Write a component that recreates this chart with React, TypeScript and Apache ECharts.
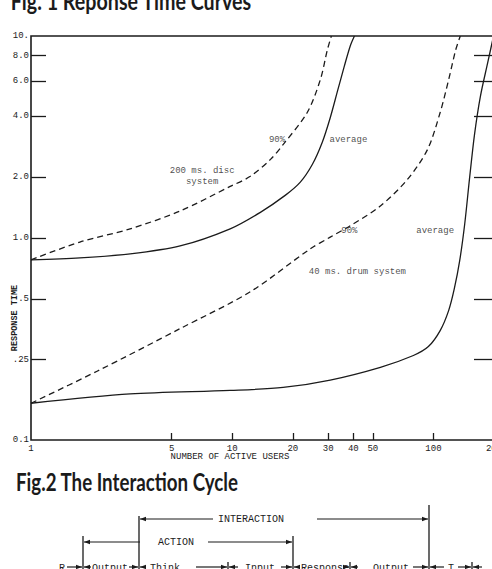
import React, { useEffect, useRef } from "react";
import * as echarts from "echarts";

// ---- Fig. 1 data: number of active users vs response time (s) ----
const discP90Users = [1, 1.75, 3.11, 5.51, 9.77, 12.3, 15.5, 17.9, 23.6, 27.4, 29.7, 31.1];
const discP90Resp = [0.78, 0.955, 1.11, 1.36, 1.8, 2.02, 2.45, 2.9, 4.18, 6.07, 8.53, 10];
const discAvgUsers = [1, 1.75, 3.11, 5.51, 9.77, 13.8, 18.4, 21.8, 25.0, 28.0, 30.7, 33.3, 36.1, 38.6, 40.5];
const discAvgResp = [0.78, 0.797, 0.834, 0.913, 1.11, 1.34, 1.63, 1.89, 2.31, 2.97, 3.94, 5.3, 7.11, 8.93, 10];
const drumP90Users = [1, 2.13, 5.51, 12.3, 24.4, 30.7, 38.6, 54.5, 74.3, 93.4, 108, 119, 129, 136];
const drumP90Resp = [0.152, 0.219, 0.356, 0.542, 0.883, 1.01, 1.15, 1.44, 1.95, 2.74, 4.18, 6.07, 8.53, 10];
const drumAvgUsers = [1, 3.11, 9.77, 17.9, 30.7, 54.5, 79.5, 94.4, 108, 119, 127, 135, 143, 151, 160, 171, 186, 199];
const drumAvgResp = [0.152, 0.169, 0.176, 0.182, 0.198, 0.229, 0.262, 0.29, 0.348, 0.437, 0.561, 0.77, 1.17, 1.95, 3.25, 5.0, 7.36, 10];

// curve annotations (anchored in data space)
const annotationTexts = ["90%", "average", "200 ms. disc\nsystem", "90%", "average", "40 ms. drum system"];
const annotationUsers = [16.7, 37.8, 7.09, 38.2, 102, 41.9];
const annotationResp = [3.07, 3.07, 2.01, 1.08, 1.08, 0.68];

// axis ticks
const yTickValues = [10, 8, 6, 4, 2, 1, 0.5, 0.25, 0.1];
const yTickLabels = ["10.", "8.0", "6.0", "4.0", "2.0", "1.0", ".5", ".25", "0.1"];
const yTickMarks = [8, 6, 4, 2, 1, 0.5, 0.25];
const xTickValues = [1, 5, 10, 20, 30, 40, 50, 100, 200];
const xTickLabels = ["1", "5", "10", "20", "30", "40", "50", "100", "200"];
const xTickMarks = [5, 10, 20, 30, 40, 50, 100];

// Fig. 2 texts
const cycleRowTexts = ["R", "Output", "Think", "Input", "Response", "Output", "T"];

const L = Math.log10;
const mono = "'Liberation Mono', 'DejaVu Sans Mono', monospace";
const ink = "#1b1b1b";

const lookup = (vals: number[], labels: string[]) => (v: number) => {
  const i = vals.findIndex((t) => Math.abs(L(t) - v) < 1e-6);
  return i >= 0 ? labels[i] : "";
};

const curve = (name: string, xs: number[], ys: number[], dashed: boolean) => ({
  type: "line",
  name,
  xAxisIndex: 0,
  yAxisIndex: 0,
  data: xs.map((x, i) => [x, ys[i]]),
  symbol: "none",
  showSymbol: false,
  smooth: 0.3,
  silent: true,
  lineStyle: { color: ink, width: 1.3, type: dashed ? [6, 4] : "solid" },
});

const hseg = (x1: number, x2: number, y: number) => ({
  type: "line",
  silent: true,
  shape: { x1, y1: y, x2, y2: y },
  style: { stroke: ink, lineWidth: 1.2 },
});
const vseg = (x: number, y1: number, y2: number) => ({
  type: "line",
  silent: true,
  shape: { x1: x, y1, x2: x, y2 },
  style: { stroke: ink, lineWidth: 1.3 },
});
const head = (x: number, y: number, dir: number) => ({
  type: "polygon",
  silent: true,
  shape: {
    points:
      dir > 0
        ? [[x, y], [x - 6, y - 2.2], [x - 6, y + 2.2]]
        : [[x, y], [x + 6, y - 2.2], [x + 6, y + 2.2]],
  },
  style: { fill: ink },
});
const arrow = (x1: number, x2: number, y: number, dir: number) => [
  hseg(x1, x2, y),
  head(dir > 0 ? x2 : x1, y, dir),
];
const txt = (text: string, x: number, y: number, font: string, extra: any = {}) => ({
  type: "text",
  silent: true,
  x,
  y,
  ...extra,
  style: {
    text,
    fill: ink,
    font,
    align: "center",
    textAlign: "center",
    verticalAlign: "middle",
    textVerticalAlign: "middle",
  },
});

const rowY = 567;
const rowX = [62, 110, 165, 260, 325, 391, 451];

const graphics: any[] = [
  txt("Fig. 1 Reponse Time Curves", 131, 1, "bold 24px Lato", { scaleX: 0.82 }),
  txt("Fig.2 The Interaction Cycle", 127, 482, "bold 24px Lato", { scaleX: 0.78 }),
  txt("RESPONSE TIME", 15, 318, "bold 8.5px " + mono, { rotation: Math.PI / 2 }),
  txt("NUMBER OF ACTIVE USERS", 230, 457, "9px " + mono),
  // INTERACTION bracket
  vseg(139, 516, 569),
  vseg(429, 505, 569),
  ...arrow(140, 213, 519, -1),
  txt("INTERACTION", 251, 519, "10px " + mono),
  ...arrow(317, 428, 519, 1),
  // ACTION bracket
  vseg(83, 536, 569),
  vseg(293, 536, 569),
  ...arrow(84, 140, 542, -1),
  txt("ACTION", 176, 542, "10px " + mono),
  ...arrow(208, 292, 542, 1),
  // bottom row
  ...cycleRowTexts.map((t, i) => txt(t, rowX[i], rowY + 1, "10px " + mono)),
  ...arrow(67, 82, rowY, 1),
  ...arrow(84, 91, rowY, -1),
  ...arrow(129, 138, rowY, 1),
  ...arrow(140, 146, rowY, -1),
  ...arrow(196, 227, rowY, 1),
  vseg(228, 562, 569),
  ...arrow(229, 238, rowY, -1),
  ...arrow(281, 292, rowY, 1),
  ...arrow(294, 300, rowY, -1),
  ...arrow(343, 349, rowY, 1),
  vseg(350, 562, 569),
  ...arrow(351, 358, rowY, -1),
  ...arrow(413, 428, rowY, 1),
  ...arrow(430, 444, rowY, -1),
  ...arrow(458, 471, rowY, 1),
  vseg(472, 562, 569),
  ...arrow(473, 482, rowY, -1),
];

const option: any = {
  animation: false,
  backgroundColor: "#ffffff",
  grid: {
    left: 31,
    right: -2,
    top: 36,
    bottom: 129,
    containLabel: false,
    outerBoundsMode: "none",
    show: true,
    borderColor: ink,
    borderWidth: 1.6,
    backgroundColor: "transparent",
  },
  xAxis: [
    {
      type: "log",
      logBase: 10,
      min: 1,
      max: 200,
      axisLine: { show: false, onZero: false },
      axisTick: { show: false },
      axisLabel: { show: false },
      splitLine: { show: false },
    },
    {
      type: "value",
      min: 0,
      max: L(200),
      position: "bottom",
      axisLine: { show: false, onZero: false },
      splitLine: { show: false },
      axisTick: {
        show: true,
        inside: true,
        length: 7,
        customValues: xTickMarks.map(L),
        lineStyle: { color: ink, width: 1.3 },
      },
      axisLabel: {
        show: true,
        customValues: xTickValues.map(L),
        formatter: lookup(xTickValues, xTickLabels),
        margin: 4,
        fontFamily: mono,
        fontSize: 9,
        color: ink,
        hideOverlap: false,
      },
    },
  ],
  yAxis: [
    {
      type: "log",
      logBase: 10,
      min: 0.1,
      max: 10,
      axisLine: { show: false, onZero: false },
      axisTick: { show: false },
      axisLabel: { show: false },
      splitLine: { show: false },
    },
    {
      type: "value",
      min: -1,
      max: 1,
      position: "left",
      axisLine: { show: false, onZero: false },
      splitLine: { show: false },
      axisTick: {
        show: true,
        inside: true,
        length: 15,
        customValues: yTickMarks.map(L),
        lineStyle: { color: ink, width: 1.3 },
      },
      axisLabel: {
        show: true,
        customValues: yTickValues.map(L),
        formatter: lookup(yTickValues, yTickLabels),
        margin: 2,
        fontFamily: mono,
        fontSize: 9,
        color: ink,
      },
    },
    {
      type: "value",
      min: -1,
      max: 1,
      position: "right",
      axisLine: { show: false, onZero: false },
      splitLine: { show: false },
      axisTick: {
        show: true,
        inside: true,
        length: 20,
        customValues: yTickMarks.map(L),
        lineStyle: { color: ink, width: 1.3 },
      },
      axisLabel: { show: false },
    },
  ],
  series: [
    curve("200 ms. disc 90%", discP90Users, discP90Resp, true),
    curve("200 ms. disc average", discAvgUsers, discAvgResp, false),
    curve("40 ms. drum 90%", drumP90Users, drumP90Resp, true),
    curve("40 ms. drum average", drumAvgUsers, drumAvgResp, false),
    {
      type: "scatter",
      xAxisIndex: 0,
      yAxisIndex: 0,
      symbolSize: 1,
      silent: true,
      itemStyle: { color: "rgba(0,0,0,0)" },
      data: annotationTexts.map((t, i) => ({ name: t, value: [annotationUsers[i], annotationResp[i]] })),
      label: {
        show: true,
        position: "inside",
        formatter: "{b}",
        fontFamily: mono,
        fontSize: 9,
        lineHeight: 11,
        align: "center",
        color: ink,
      },
    },
  ],
  graphic: graphics,
};

export default function App() {
  const ref = useRef<HTMLDivElement>(null);
  useEffect(() => {
    const chart = echarts.init(ref.current!, null, { renderer: "svg" });
    chart.setOption(option);
    return () => chart.dispose();
  }, []);
  return (
    <div
      ref={ref}
      style={{ position: "absolute", left: 0, top: 0, width: 492, height: 569, background: "#fff" }}
    />
  );
}
